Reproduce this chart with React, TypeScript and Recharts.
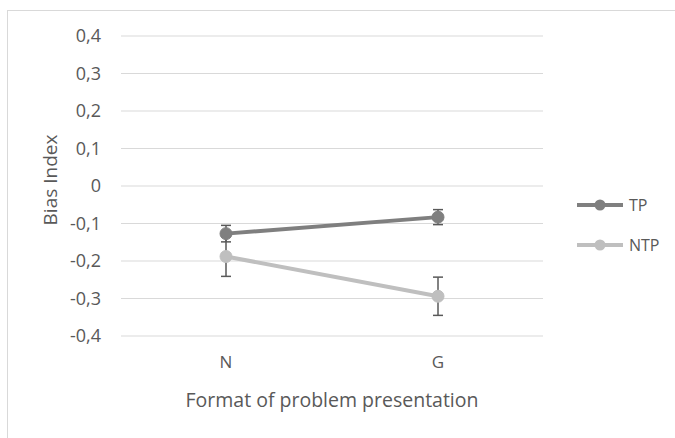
import { LineChart, Line, XAxis, YAxis, CartesianGrid, ErrorBar, Legend } from 'recharts';

// Bias index by format of problem presentation
const categories = ['N', 'G'];
const tpValues = [-0.127, -0.083];
const tpErrors = [0.022, 0.02];
const ntpValues = [-0.188, -0.294];
const ntpErrors = [0.053, 0.051];
const yTicks = [-0.4, -0.3, -0.2, -0.1, 0, 0.1, 0.2, 0.3, 0.4];

const data = categories.map((c, i) => ({
  format: c,
  TP: tpValues[i],
  tpErr: tpErrors[i],
  NTP: ntpValues[i],
  ntpErr: ntpErrors[i],
}));

const FONT = '"Open Sans", sans-serif';
const TEXT = '#595959';
const TP_COLOR = '#7f7f7f';
const NTP_COLOR = '#bfbfbf';

const fmt = (v: number) => (v === 0 ? '0' : v.toFixed(1).replace('.', ','));

const LegendContent = () => (
  <div style={{ fontFamily: FONT, fontSize: 16, color: TEXT }}>
    {[
      { name: 'TP', color: TP_COLOR },
      { name: 'NTP', color: NTP_COLOR },
    ].map((s, i) => (
      <div key={s.name} style={{ display: 'flex', alignItems: 'center', height: 20, marginTop: i ? 20 : 0 }}>
        <svg width={48} height={14}>
          <line x1={1} y1={7} x2={47} y2={7} stroke={s.color} strokeWidth={4} />
          <circle cx={24} cy={7} r={5.5} fill={s.color} />
        </svg>
        <span style={{ marginLeft: 5 }}>{s.name}</span>
      </div>
    ))}
  </div>
);

const YLabel = ({ viewBox }: any) => {
  const x = viewBox.x + 50;
  const y = viewBox.y + viewBox.height / 2 - 6;
  return (
    <text x={x} y={y} transform={`rotate(-90 ${x} ${y})`} textAnchor="middle" dominantBaseline="central"
      fill={TEXT} fontFamily={FONT} fontSize={19}>
      Bias Index
    </text>
  );
};

export default function App() {
  return (
    <div style={{ position: 'absolute', left: 0, top: 0, width: 675, height: 438, overflow: 'hidden', background: '#fff' }}>
      <div style={{ position: 'absolute', left: 7, top: 10, width: 720, height: 480, border: '1px solid #d9d9d9' }} />
      <div style={{ position: 'absolute', left: 0, top: 0 }}>
        <LineChart width={675} height={438} data={data} margin={{ top: 36, right: 132, bottom: 12, left: 0 }}>
          <CartesianGrid vertical={false} stroke="#d9d9d9" strokeWidth={1} />
          <XAxis
            dataKey="format"
            axisLine={false}
            tickLine={false}
            tickMargin={14}
            height={90}
            padding={{ left: 105, right: 105 }}
            tick={{ fill: TEXT, fontFamily: FONT, fontSize: 17 }}
            label={{ value: 'Format of problem presentation', position: 'insideBottom', offset: 19, fill: TEXT, fontFamily: FONT, fontSize: 19.5 }}
          />
          <YAxis
            width={121}
            domain={[-0.4, 0.4]}
            ticks={yTicks}
            tickFormatter={fmt}
            axisLine={false}
            tickLine={false}
            tickMargin={14}
            tick={{ fill: TEXT, fontFamily: FONT, fontSize: 18 }}
            label={<YLabel />}
          />
          <Legend
            layout="vertical"
            align="center"
            verticalAlign="middle"
            content={<LegendContent />}
            wrapperStyle={{ position: 'absolute', left: 576, top: 195, width: 100 }}
          />
          <Line
            dataKey="TP"
            stroke={TP_COLOR}
            strokeWidth={4}
            dot={{ r: 6, fill: TP_COLOR, stroke: TP_COLOR, strokeWidth: 1 }}
            activeDot={false}
            isAnimationActive={false}
          >
            <ErrorBar dataKey="tpErr" direction="y" width={5} stroke="#595959" strokeWidth={1.5} />
          </Line>
          <Line
            dataKey="NTP"
            stroke={NTP_COLOR}
            strokeWidth={4}
            dot={{ r: 6, fill: NTP_COLOR, stroke: NTP_COLOR, strokeWidth: 1 }}
            activeDot={false}
            isAnimationActive={false}
          >
            <ErrorBar dataKey="ntpErr" direction="y" width={5} stroke="#595959" strokeWidth={1.5} />
          </Line>
        </LineChart>
      </div>
    </div>
  );
}
